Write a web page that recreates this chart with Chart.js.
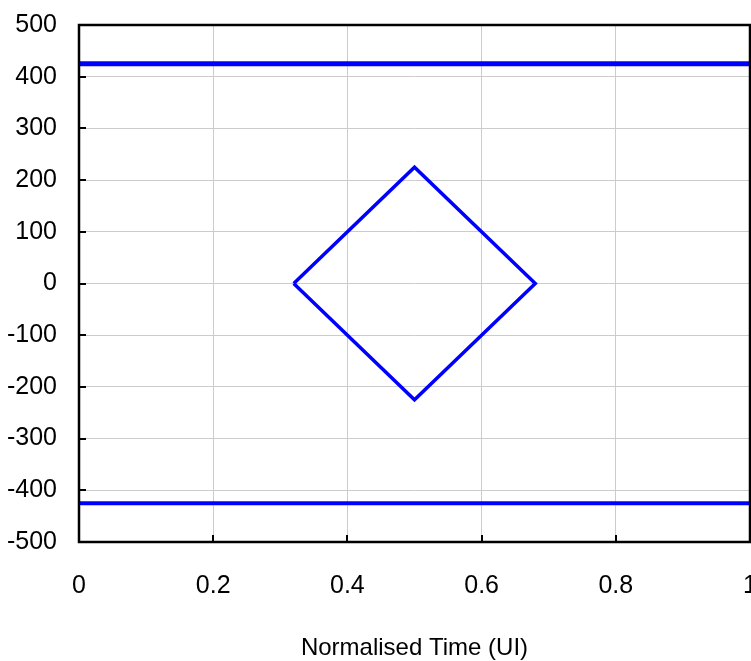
<!DOCTYPE html>
<html>
<head>
<meta charset="utf-8">
<script src="https://cdn.jsdelivr.net/npm/chart.js@4/dist/chart.umd.min.js"></script>
<style>
  html, body { margin: 0; padding: 0; background: #fff; overflow: hidden; width: 751px; height: 661px; }
  #wrap { width: 770px; height: 661px; }
</style>
</head>
<body>
<div id="wrap"><canvas id="c" width="770" height="661"></canvas></div>
<script>
// Data
const xTickValues = [0, 0.2, 0.4, 0.6, 0.8, 1];
const xTickLabels = ['0', '0.2', '0.4', '0.6', '0.8', '1'];
const yTickValues = [-500, -400, -300, -200, -100, 0, 100, 200, 300, 400, 500];
const yTickLabels = ['-500', '-400', '-300', '-200', '-100', '0', '100', '200', '300', '400', '500'];
const maskX = [0.32, 0.5, 0.68, 0.5, 0.32];
const maskY = [0, 225, 0, -225, 0];
const upperX = [0, 1];
const upperY = [425, 425];
const lowerX = [0, 1];
const lowerY = [-425, -425];

const toPts = (xs, ys) => xs.map((x, i) => ({ x: x, y: ys[i] }));

const framePlugin = {
  id: 'frame',
  afterDraw(chart) {
    const { ctx, chartArea: a, scales } = chart;
    ctx.save();
    ctx.strokeStyle = '#000';
    ctx.lineWidth = 2;
    // inward tick marks
    ctx.beginPath();
    yTickValues.forEach(v => {
      const y = Math.round(scales.y.getPixelForValue(v));
      ctx.moveTo(a.left, y);
      ctx.lineTo(a.left + 7, y);
    });
    xTickValues.forEach(v => {
      const x = Math.round(scales.x.getPixelForValue(v));
      ctx.moveTo(x, a.bottom);
      ctx.lineTo(x, a.bottom - 7);
    });
    ctx.stroke();
    // frame
    ctx.lineWidth = 2.5;
    ctx.strokeRect(a.left, a.top, a.right - a.left, a.bottom - a.top);
    ctx.restore();
  }
};

new Chart(document.getElementById('c'), {
  type: 'scatter',
  data: {
    datasets: [
      { data: toPts(maskX, maskY), showLine: true, borderColor: '#0000ff', borderWidth: 3.5, pointRadius: 0, tension: 0, borderJoinStyle: 'miter' },
      { data: toPts(upperX, upperY), showLine: true, borderColor: '#0000ff', borderWidth: 5, pointRadius: 0 },
      { data: toPts(lowerX, lowerY), showLine: true, borderColor: '#0000ff', borderWidth: 4, pointRadius: 0 }
    ]
  },
  options: {
    responsive: false,
    animation: false,
    devicePixelRatio: 1,
    layout: { padding: { left: 0, right: 20, top: 25, bottom: 0 } },
    plugins: { legend: { display: false }, tooltip: { enabled: false } },
    scales: {
      x: {
        type: 'linear', min: 0, max: 1,
        afterBuildTicks: s => { s.ticks = xTickValues.map(v => ({ value: v })); },
        afterFit: s => { s.height = 119; },
        grid: { color: '#cccccc', lineWidth: 1, drawTicks: true, tickLength: 29, tickColor: 'rgba(0,0,0,0)' },
        border: { display: false },
        ticks: {
          padding: 0, color: '#000', maxRotation: 0,
          font: { family: '"Liberation Sans", Arial, sans-serif', size: 25 },
          callback: (v, i) => xTickLabels[i]
        },
        title: {
          display: true, text: 'Normalised Time (UI)', color: '#000',
          font: { family: '"Liberation Sans", Arial, sans-serif', size: 24, lineHeight: 1.05 },
          padding: { top: 0, bottom: 0 }
        }
      },
      y: {
        type: 'linear', min: -500, max: 500,
        afterBuildTicks: s => { s.ticks = yTickValues.map(v => ({ value: v })); },
        afterFit: s => { s.width = 79; },
        grid: { color: '#cccccc', lineWidth: 1, drawTicks: true, tickLength: 22, tickColor: 'rgba(0,0,0,0)' },
        border: { display: false },
        ticks: {
          padding: 0, color: '#000',
          font: { family: '"Liberation Sans", Arial, sans-serif', size: 25 },
          callback: (v, i) => yTickLabels[i]
        }
      }
    }
  },
  plugins: [framePlugin]
});
</script>
</body>
</html>
